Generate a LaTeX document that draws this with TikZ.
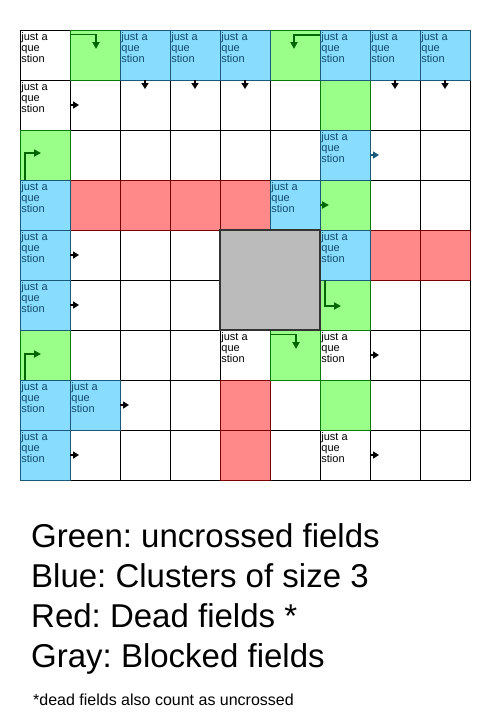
\documentclass[tikz,border=0pt]{standalone}
\usepackage{fontspec}
\setmainfont{Liberation Sans}
\usetikzlibrary{calc,arrows.meta}
\definecolor{gfill}{HTML}{99FF88}
\definecolor{gline}{HTML}{0A7A0A}
\definecolor{bfill}{HTML}{88DDFF}
\definecolor{bline}{HTML}{1A5A78}
\definecolor{rfill}{HTML}{FF8888}
\definecolor{rline}{HTML}{7A0000}
\definecolor{kfill}{HTML}{BBBBBB}
\definecolor{kline}{HTML}{333333}
\definecolor{garrowc}{HTML}{006600}
\definecolor{btext}{HTML}{114A6A}
\frenchspacing
\begin{document}
\begin{tikzpicture}[x=1pt,y=-1pt,
  cell/.style={draw=black,line width=0.9pt,minimum size=50pt,inner sep=0pt,outer sep=0pt},
  gbox/.style={fill=gfill,draw=gline,line width=0.9pt},
  bbox/.style={fill=bfill,draw=bline,line width=0.9pt},
  rbox/.style={fill=rfill,draw=rline,line width=0.9pt},
  kbox/.style={fill=kfill,draw=kline,line width=2.5pt},
  qtext/.style={anchor=north west,inner xsep=1.2pt,inner ysep=2.5pt,align=left,font=\fontsize{11}{11}\selectfont},
  qblue/.style={qtext,text=btext},
  garrow/.style={draw=garrowc,line width=1.8pt,-{Triangle[length=7pt,width=7pt]}},
  karrow/.style={draw=black,line width=1.8pt,-{Triangle[length=6pt,width=7pt]}},
  legend/.style={anchor=base west,inner sep=0pt,font=\fontsize{33}{40}\selectfont},
  footnote/.style={anchor=base west,inner sep=0pt,font=\fontsize{16}{18}\selectfont},
]
\useasboundingbox (0,0) rectangle (497,721);
\fill[white] (0,0) rectangle (497,721);
% grid
\foreach \r in {0,...,8}{\foreach \c in {0,...,8}{\node[cell] (n\r\c) at ({45+50*\c},{55+50*\r}) {};}}
% coloured fields
\foreach \p in {31,32,33,34,47,48,74,84} \draw[rbox] (n\p.north west) rectangle (n\p.south east);
\foreach \p in {01,05,16,20,36,56,60,65,76} \draw[gbox] (n\p.north west) rectangle (n\p.south east);
\foreach \p in {02,03,04,06,07,08,26,30,35,40,46,50,70,71,80} \draw[bbox] (n\p.north west) rectangle (n\p.south east);
\draw[kbox] (n44.north west) rectangle (n55.south east);
% texts
\foreach \p in {00,10,64,66,86} \node[qtext] (t\p) at (n\p.north west) {just a\\que\\stion};
\foreach \p in {02,03,04,06,07,08,26,30,35,40,46,50,70,71,80} \node[qblue] (t\p) at (n\p.north west) {just a\\que\\stion};
% small arrows
\foreach \p in {11,41,51,72,81,67,87} \draw[karrow] (n\p.west) -- ++(9,0);
\draw[karrow,draw=bline] (n27.west) -- ++(9,0);
\foreach \p in {12,13,14,17,18} \draw[karrow] (n\p.north) -- ++(0,9);
\draw[garrow] (n36.west) -- ++(9,0);
% bent green arrows
\draw[garrow] ($(n01.north west)+(0,4.5)$) -| ($(n01.north west)+(26,19)$);
\draw[garrow] ($(n05.north west)+(50,5)$) -| ($(n05.north west)+(24,19)$);
\draw[garrow] ($(n20.north west)+(5,50)$) |- ($(n20.north west)+(21,23)$);
\draw[garrow] ($(n60.north west)+(5,50)$) |- ($(n60.north west)+(21,24)$);
\draw[garrow] ($(n56.north west)+(5,0)$) |- ($(n56.north west)+(21,26)$);
\draw[garrow] ($(n65.north west)+(0,4.5)$) -| ($(n65.north west)+(26,19)$);
% legend
\node[legend] (lg1) at (31,547) {Green: uncrossed fields};
\node[legend] (lg2) at (31,587) {Blue: Clusters of size 3};
\node[legend] (lg3) at (31,627) {Red: Dead fields *};
\node[legend] (lg4) at (31,667) {Gray: Blocked fields};
\node[footnote] (fn) at (33,705) {*dead fields also count as uncrossed};
\end{tikzpicture}
\end{document}
